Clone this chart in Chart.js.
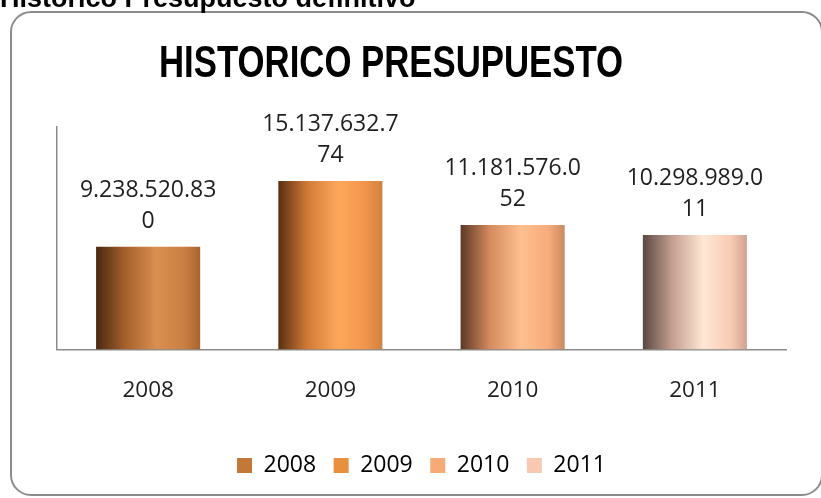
<!DOCTYPE html>
<html lang="es">
<head>
    <meta charset="UTF-8">
    <title>Historico Presupuesto</title>
    <script src="https://cdn.jsdelivr.net/npm/chart.js"></script>
    <style>
        body { margin: 0; background: #fff; }
        #wrap { position: relative; width: 821px; height: 498px; overflow: hidden; }
        #head {
            position: absolute; left: 0; top: -15px;
            font: bold 27px "Liberation Sans", Arial, sans-serif;
            line-height: 27px; white-space: nowrap; color: #000;
        }
        canvas { position: absolute; left: 0; top: 0; }
    </style>
</head>
<body>
<div id="wrap">
    <canvas id="myChart" width="821" height="498"></canvas>
    <div id="head">Historico Presupuesto definitivo</div>
</div>
<script>
    // data
    const years = ['2008', '2009', '2010', '2011'];
    const presupuesto = [9238520830, 15137632774, 11181576052, 10298989011];
    const chartTitle = 'HISTORICO PRESUPUESTO';

    // colours (legend swatches + bar shading left -> right)
    const legendColors = ['#c47838', '#e8903e', '#f5aa78', '#f8c8b0'];
    const barShades = [
        ['#4a2710', '#a5612c', '#d98f4f', '#c97f42', '#a8642f'],
        ['#5a3010', '#d07a36', '#ffa85c', '#f0934a', '#cf8240'],
        ['#5c3826', '#d48a5e', '#ffbf8e', '#f6ab7a', '#c98960'],
        ['#5a4842', '#c49e90', '#ffe7d4', '#f8cab3', '#cfa290']
    ];
    const stopPos = [0, 0.28, 0.58, 0.85, 1];

    const fmt = v => String(v).replace(/\B(?=(\d{3})+(?!\d))/g, '.');

    function barFill(context) {
        const chart = context.chart;
        const i = context.dataIndex;
        if (!chart.chartArea) return legendColors[i];
        const xs = chart.scales.x;
        const half = (xs.width / years.length) * 0.571 / 2;
        const cx = xs.getPixelForValue(i);
        const g = chart.ctx.createLinearGradient(cx - half, 0, cx + half, 0);
        barShades[i].forEach((c, k) => g.addColorStop(stopPos[k], c));
        return g;
    }

    // rounded frame + the big title (condensed like the original, so drawn with maxWidth)
    const framePlugin = {
        id: 'frame',
        beforeDraw(chart) {
            const ctx = chart.ctx;
            ctx.save();
            ctx.strokeStyle = '#8c8c8c';
            ctx.lineWidth = 2;
            ctx.beginPath();
            ctx.roundRect(11, 12, 811, 483, 20);
            ctx.stroke();

            ctx.fillStyle = '#000';
            ctx.font = 'bold 44px "Liberation Sans", Arial, sans-serif';
            ctx.textAlign = 'center';
            ctx.textBaseline = 'alphabetic';
            ctx.fillText(chartTitle, 391, 77, 464);
            ctx.restore();
        }
    };

    // value labels above each bar, wrapped like the original
    const valueLabels = {
        id: 'valueLabels',
        afterDatasetsDraw(chart) {
            const ctx = chart.ctx;
            const meta = chart.getDatasetMeta(0);
            ctx.save();
            ctx.font = '23px "Open Sans"';
            ctx.fillStyle = '#1f1f1f';
            ctx.textAlign = 'center';
            ctx.textBaseline = 'alphabetic';
            meta.data.forEach((bar, i) => {
                const s = fmt(presupuesto[i]);
                ctx.fillText(s.slice(0, 12), bar.x, bar.y - 50);
                ctx.fillText(s.slice(12), bar.x, bar.y - 19);
            });
            ctx.restore();
        }
    };

    const ctx = document.getElementById('myChart').getContext('2d');
    const myChart = new Chart(ctx, {
        type: 'bar',
        data: {
            labels: years,
            datasets: [{
                label: 'Presupuesto',
                data: presupuesto,
                backgroundColor: barFill,
                borderWidth: 0,
                barPercentage: 0.571,
                categoryPercentage: 1
            }]
        },
        options: {
            responsive: false,
            animation: false,
            layout: { padding: { top: 127, left: 0, right: 35, bottom: 11 } },
            scales: {
                x: {
                    grid: { display: false, drawTicks: false },
                    border: { display: true, color: '#8c8c8c', width: 1.5 },
                    ticks: { color: '#1f1f1f', padding: 28, font: { family: 'Open Sans', size: 22.5 } },
                    afterFit: s => { s.height = 87; }
                },
                y: {
                    min: 0,
                    max: 20000000000,
                    grid: { display: false, drawTicks: false },
                    border: { display: true, color: '#8c8c8c', width: 1.5 },
                    ticks: { display: false },
                    afterFit: s => { s.width = 57; }
                }
            },
            plugins: {
                title: { display: false },
                legend: {
                    position: 'bottom',
                    fullSize: false,
                    labels: {
                        boxWidth: 15,
                        boxHeight: 15,
                        padding: 17.5,
                        color: '#1f1f1f',
                        font: { family: 'Open Sans', size: 23 },
                        generateLabels: () => years.map((y, i) => ({
                            text: y,
                            fillStyle: legendColors[i],
                            strokeStyle: legendColors[i],
                            lineWidth: 0,
                            index: i
                        }))
                    }
                },
                tooltip: { enabled: false }
            }
        },
        plugins: [framePlugin, valueLabels]
    });
</script>
</body>
</html>
